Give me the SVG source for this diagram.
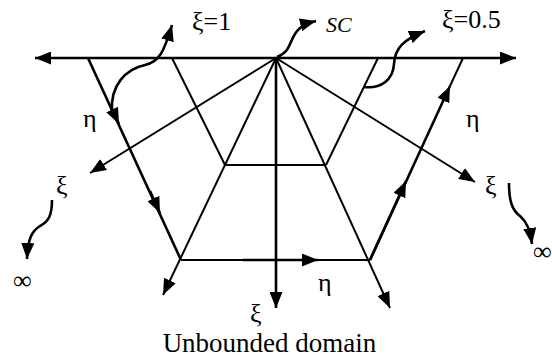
<svg xmlns="http://www.w3.org/2000/svg" width="552" height="362" viewBox="0 0 552 362">
<defs>
<marker id="ah" markerUnits="userSpaceOnUse" markerWidth="17" markerHeight="13" refX="16" refY="6.5" orient="auto">
<path d="M0,0 L16,6.5 L0,13 z" fill="#000"/>
</marker>
<style>
.thick{stroke:#000;stroke-width:2.6;fill:none}
.thin{stroke:#000;stroke-width:2;fill:none}
.arr{marker-end:url(#ah)}
text{font-family:"Liberation Serif","DejaVu Serif","Times New Roman",serif;fill:#000}
.lbl{font-size:26px}
</style>
</defs>
<rect width="552" height="362" fill="#fff"/>
<g id="connectors">
<line class="thick arr" x1="276" y1="58" x2="35" y2="58"/>
<line class="thick arr" x1="276" y1="58" x2="516" y2="58"/>
<line class="thin arr" x1="276" y1="58" x2="90" y2="173"/>
<line class="thin arr" x1="276" y1="58" x2="475" y2="182"/>
<line class="thick arr" x1="276" y1="58" x2="276" y2="308"/>
<line class="thin arr" x1="276" y1="58" x2="163" y2="295"/>
<line class="thin arr" x1="276" y1="58" x2="390" y2="308"/>
<line class="thin" x1="172" y1="58" x2="225" y2="165"/>
<line class="thin" x1="378" y1="58" x2="326" y2="165"/>
<line class="thin" x1="225" y1="165" x2="326" y2="165"/>
<line class="thick" x1="88" y1="58" x2="181" y2="260"/>
<line class="thick arr" x1="110" y1="105" x2="119" y2="124"/>
<line class="thick arr" x1="150" y1="191" x2="160" y2="213"/>
<line class="thin" x1="463" y1="58" x2="450" y2="86"/>
<line class="thick arr" x1="370" y1="260" x2="450" y2="86"/>
<line class="thick arr" x1="370" y1="260" x2="406" y2="181"/>
<line class="thin" x1="181" y1="260" x2="370" y2="260"/>
<line class="thick arr" x1="243" y1="260" x2="318" y2="260"/>
<path class="thick arr" d="M112,112 C110,85 126,69 145,65 C159,62 164,52 172,25"/>
<path class="thick arr" d="M277,57 C292,52 289,38 299,29 C303,25 308,23 316,21"/>
<path class="thick arr" d="M364,87 C381,89 393,80 394,64 C395,48 403,40 425,31"/>
<path class="thick arr" d="M52,200 C52,216 48,222 40,226 C32,231 28,238 27,259"/>
<path class="thick arr" d="M509,183 C509,201 512,210 520,216 C527,222 530,230 532,244"/>
</g>
<g id="labels">
<text class="lbl" x="192" y="30">ξ=1</text>
<text x="326" y="32" font-size="22" font-style="italic">SC</text>
<text class="lbl" x="442" y="28">ξ=0.5</text>
<text class="lbl" x="83" y="127">η</text>
<text class="lbl" x="466" y="127">η</text>
<text class="lbl" x="56" y="194">ξ</text>
<text class="lbl" x="13" y="289">∞</text>
<text class="lbl" x="485" y="194">ξ</text>
<text class="lbl" x="533" y="260">∞</text>
<text class="lbl" x="318" y="291">η</text>
<text class="lbl" x="250" y="322">ξ</text>
<text x="269.5" y="352" font-size="27" text-anchor="middle">Unbounded domain</text>
</g>
</svg>
